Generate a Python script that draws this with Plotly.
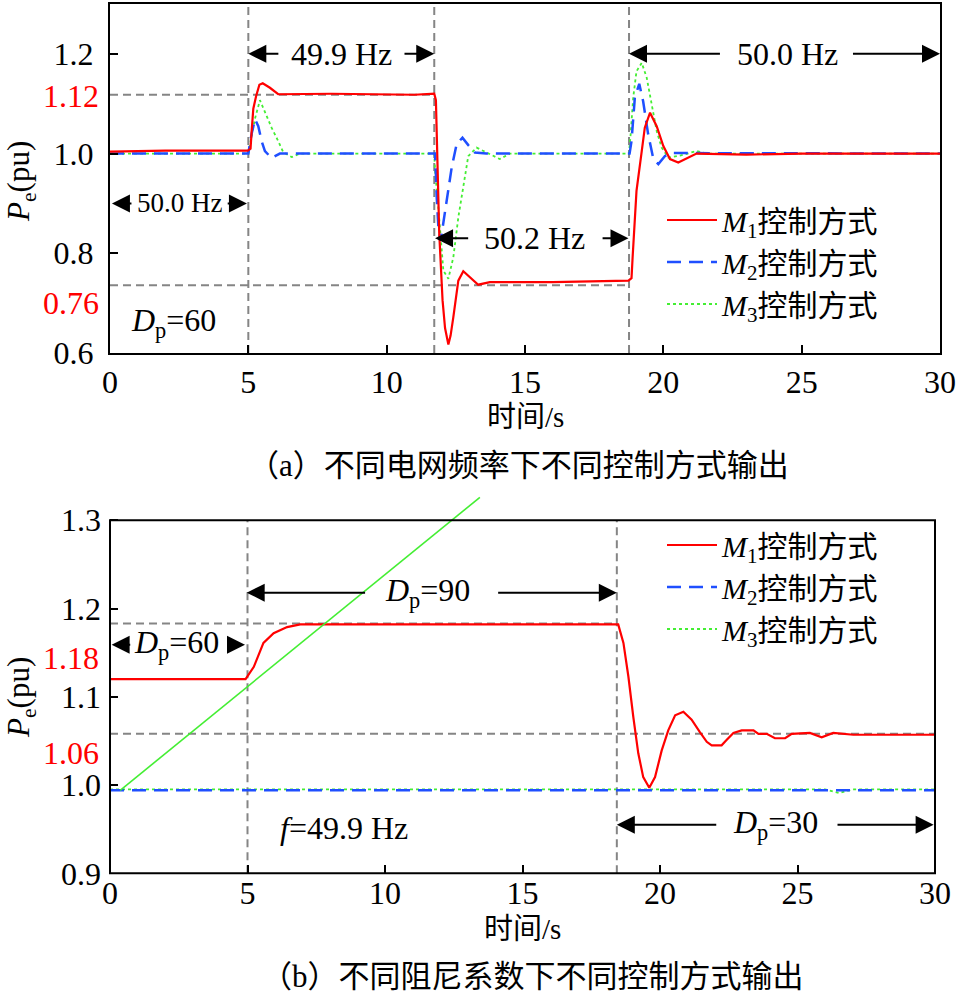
import plotly.graph_objects as go

# 字体: Times 风格 + 中文
FONT = "Liberation Serif, Noto Sans CJK SC"
RED = "#ff0000"
BLUE = "#1f4fff"
GREEN = "#44ee33"
GRAY = "#858585"

W, H = 960, 993


def fx(px):
    return px / W


def fy(py):
    return 1 - py / H


# (a) 不同电网频率下的输出 (时间/s, Pe/pu)
t_a_m1 = [0, 2, 4.98, 5.08, 5.12, 5.18, 5.28, 5.40, 5.52, 5.78, 6.08, 8, 11.0, 11.72, 11.78,
          11.90, 12.02, 12.11, 12.23, 12.31, 12.41, 12.59, 12.77, 13.01, 13.31, 13.73, 16,
          18.74, 18.85, 18.89, 19.03, 19.22, 19.33, 19.52, 19.76, 20.0, 20.24, 20.54, 20.84,
          21.2, 23, 25, 30]
p_a_m1 = [1.004, 1.006, 1.006, 1.01, 1.045, 1.09, 1.115, 1.138, 1.141, 1.132, 1.119, 1.12,
          1.118, 1.12, 1.107, 0.84, 0.706, 0.65, 0.617, 0.635, 0.672, 0.745, 0.764, 0.752,
          0.737, 0.742, 0.742, 0.745, 0.75, 0.792, 0.925, 1.005, 1.052, 1.082, 1.055, 1.015,
          0.989, 0.982, 0.99, 1.0, 0.998, 1.0, 1.0]

t_a_m2 = [0, 5.0, 5.12, 5.24, 5.36, 5.48, 5.60, 5.84, 6.14, 11.75, 11.81, 11.87, 11.95, 12.17,
          12.35, 12.53, 12.74, 12.95, 13.19, 13.6, 18.78, 18.85, 18.97, 19.13, 19.27, 19.45,
          19.64, 19.82, 20.06, 20.3, 30]
p_a_m2 = [1.0, 1.0, 1.04, 1.069, 1.055, 1.025, 1.005, 0.991, 1.0, 1.0, 0.912, 0.852, 0.825,
          0.905, 0.972, 1.019, 1.032, 1.017, 1.002, 1.0, 1.0, 1.025, 1.112, 1.14, 1.105, 1.039,
          0.989, 0.979, 0.995, 1.001, 1.0]

t_a_m3 = [0, 5.0, 5.12, 5.24, 5.42, 5.66, 5.84, 6.08, 6.26, 6.57, 6.87, 11.72, 11.75, 11.87,
          12.05, 12.23, 12.41, 12.59, 12.77, 12.95, 13.25, 13.61, 14.09, 14.46, 18.76, 18.82,
          18.91, 19.03, 19.22, 19.40, 19.58, 19.76, 19.94, 20.18, 20.6, 21.2, 21.56, 30]
p_a_m3 = [1.0, 1.0, 1.035, 1.07, 1.107, 1.075, 1.052, 1.025, 1.003, 0.993, 1.0, 1.0, 0.965,
          0.89, 0.765, 0.749, 0.792, 0.872, 0.932, 0.995, 1.012, 1.002, 0.989, 1.0, 1.0, 1.04,
          1.112, 1.165, 1.182, 1.152, 1.095, 1.045, 1.012, 0.992, 0.996, 1.005, 1.0, 1.0]

# 频率切换时刻 / 参考线
a_switch = [5.0, 11.72, 18.76]
a_ref_levels = [1.118, 0.736]
a_ref_ends = [11.72, 18.76]

# (b) 不同阻尼系数下的输出
t_b_m1 = [0, 4.93, 5.23, 5.58, 5.95, 6.44, 6.92, 10, 15, 18.43, 18.48, 18.67, 18.85, 19.03,
          19.21, 19.39, 19.61, 19.82, 20.06, 20.30, 20.55, 20.85, 21.15, 21.45, 21.70, 21.88,
          22.24, 22.42, 22.67, 22.97, 23.40, 23.58, 23.88, 24.18, 24.55, 24.79, 25.45, 25.88,
          26.30, 27.03, 30]
p_b_m1 = [1.12, 1.12, 1.134, 1.161, 1.172, 1.179, 1.182, 1.182, 1.182, 1.182, 1.182, 1.161,
          1.123, 1.077, 1.036, 1.009, 0.997, 1.009, 1.039, 1.062, 1.079, 1.083, 1.074, 1.060,
          1.049, 1.045, 1.045, 1.051, 1.059, 1.062, 1.062, 1.058, 1.058, 1.053, 1.053, 1.058,
          1.059, 1.054, 1.059, 1.057, 1.057]
t_b_m2 = [0, 30]
p_b_m2 = [0.994, 0.994]
t_b_m3 = [0, 26.0, 26.5, 27.0, 30]
p_b_m3 = [0.995, 0.995, 0.991, 0.995, 0.995]
# 原图中多出的一条绿色斜线
t_b_ramp = [0.37, 13.45]
p_b_ramp = [0.994, 1.326]

b_switch = [5.0, 18.43]
b_ref_levels = [1.183, 1.058]
b_ref_ends = [18.43, 30]

methods = ["<i>M</i><sub>1</sub>控制方式", "<i>M</i><sub>2</sub>控制方式", "<i>M</i><sub>3</sub>控制方式"]
styles = [dict(color=RED, width=2.2), dict(color=BLUE, width=2.5, dash="14px,8px"),
          dict(color=GREEN, width=1.8, dash="dot")]


def add_curves(fig, series, xa, ya, legend):
    # 先画 M3, M2, 最后 M1 (红线在最上层)
    for i in [2, 1, 0]:
        t, p = series[i]
        fig.add_trace(go.Scatter(x=t, y=p, mode="lines", name=methods[i], line=styles[i],
                                 xaxis=xa, yaxis=ya, legend=legend, legendrank=i + 1))


def dashed(fig, xref, yref, x0, x1, y0, y1):
    fig.add_shape(type="line", xref=xref, yref=yref, x0=x0, x1=x1, y0=y0, y1=y1,
                  line=dict(color=GRAY, width=2, dash="8px,5px"), layer="below")


def span(xref, yref, y, head0, tail0, tx, tail1, head1, text, size=32):
    # ←  text  →
    arrow = dict(xref=xref, yref=yref, axref=xref, ayref=yref, text="", showarrow=True,
                 arrowhead=2, arrowsize=1.8, arrowwidth=2, arrowcolor="black")
    return [dict(arrow, x=head0, y=y, ax=tail0, ay=y),
            dict(arrow, x=head1, y=y, ax=tail1, ay=y),
            dict(xref=xref, yref=yref, x=tx, y=y, text=text, showarrow=False,
                 xanchor="center", yanchor="middle", font=dict(size=size, color="black"))]


fig = go.Figure()
add_curves(fig, [(t_a_m1, p_a_m1), (t_a_m2, p_a_m2), (t_a_m3, p_a_m3)], "x", "y", "legend")
add_curves(fig, [(t_b_m1, p_b_m1), (t_b_m2, p_b_m2), (t_b_m3, p_b_m3)], "x2", "y2", "legend2")
fig.add_trace(go.Scatter(x=t_b_ramp, y=p_b_ramp, mode="lines", showlegend=False,
                         line=dict(color=GREEN, width=1.6), xaxis="x2", yaxis="y2"))

for x in a_switch:
    dashed(fig, "x", "y", x, x, 0.6, 1.3)
for lvl, end in zip(a_ref_levels, a_ref_ends):
    dashed(fig, "x", "y", 0, end, lvl, lvl)
for x in b_switch:
    dashed(fig, "x2", "y2", x, x, 0.9, 1.3)
for lvl, end in zip(b_ref_levels, b_ref_ends):
    dashed(fig, "x2", "y2", 0, end, lvl, lvl)

# (b) 图框只画到 1.3, 斜线可以伸出框外
fig.add_shape(type="rect", xref="x2 domain", yref="y2 domain", x0=0, x1=1, y0=0,
              y1=0.4 / 0.435, line=dict(color="black", width=2))

ann = []
ann += span("x", "y", 1.2, 5.0, 6.14, 8.38, 10.59, 11.72, "49.9 Hz")
ann += span("x", "y", 1.2, 18.76, 22.1, 24.5, 26.8, 30, "50.0 Hz")
ann += span("x", "y", 0.9, 0.07, 0.83, 2.5, 4.2, 4.95, "50.0 Hz", size=27)
ann += span("x", "y", 0.83, 11.75, 13.0, 15.35, 17.75, 18.74, "50.2 Hz")
ann.append(dict(xref="x", yref="y", x=2.3, y=0.662, showarrow=False,
                text="<i>D</i><sub>p</sub>=60", font=dict(size=32)))
ann += span("x2", "y2", 1.159, 0.06, 0.79, 2.4, 4.24, 4.91, "<i>D</i><sub>p</sub>=60")
ann += span("x2", "y2", 1.218, 4.97, 9.33, 11.55, 14.06, 18.43, "<i>D</i><sub>p</sub>=90")
ann += span("x2", "y2", 0.955, 18.43, 22.1, 24.2, 26.4, 29.95, "<i>D</i><sub>p</sub>=30")
ann.append(dict(xref="x2", yref="y2", x=8.5, y=0.951, showarrow=False,
                text="<i>f</i>=49.9 Hz", font=dict(size=32)))

# 红色刻度标注
for ref, y, txt in [("y", 1.116, "1.12"), ("y", 0.70, "0.76"),
                    ("y2", 1.1436, "1.18"), ("y2", 1.036, "1.06")]:
    ann.append(dict(xref="paper", yref=ref, x=fx(101), y=y, xanchor="right", yanchor="middle",
                    text=txt, showarrow=False, font=dict(size=32, color=RED)))

# 轴标题与图注
for x, y, txt, ang, size in [(21, 182, "<i>P</i><sub>e</sub>(pu)", -90, 31),
                             (21, 698, "<i>P</i><sub>e</sub>(pu)", -90, 31),
                             (525, 417, "时间/s", 0, 29), (522, 929, "时间/s", 0, 29),
                             (518, 465, "（a）不同电网频率下不同控制方式输出", 0, 31),
                             (532, 976, "（b）不同阻尼系数下不同控制方式输出", 0, 31)]:
    ann.append(dict(xref="paper", yref="paper", x=fx(x), y=fy(y), text=txt, textangle=ang,
                    xanchor="center", yanchor="middle", showarrow=False, font=dict(size=size)))

axis_style = dict(ticks="inside", ticklen=8, tickwidth=2, tickcolor="black", showgrid=False,
                  zeroline=False, automargin=False, tickfont=dict(size=32, color="black"))

fig.update_layout(
    width=W, height=H,
    margin=dict(l=0, r=0, t=0, b=0, autoexpand=False),
    paper_bgcolor="white", plot_bgcolor="white",
    font=dict(family=FONT, color="black"),
    xaxis=dict(axis_style, domain=[fx(110), fx(940)], anchor="y", range=[0, 30],
               tickvals=[0, 5, 10, 15, 20, 25, 30], showline=True, mirror=True,
               linewidth=2, linecolor="black", ticklabelstandoff=0),
    yaxis=dict(axis_style, domain=[fy(353), fy(4)], anchor="x", range=[0.6, 1.3],
               tickvals=[0.6, 0.8, 1.0, 1.2], ticktext=["0.6", "0.8", "1.0", "1.2"],
               showline=True, mirror=True, linewidth=2, linecolor="black",
               ticklabelstandoff=8),
    xaxis2=dict(axis_style, domain=[fx(110), fx(935)], anchor="y2", range=[0, 30],
                tickvals=[0, 5, 10, 15, 20, 25, 30], showline=False, ticklabelstandoff=-2),
    yaxis2=dict(axis_style, domain=[fy(873.3), fy(489.4)], anchor="x2",
                range=[0.9, 1.335], tickvals=[0.9, 1.0, 1.1, 1.2, 1.3],
                ticktext=["0.9", "1.0", "1.1", "1.2", "1.3"], showline=False,
                ticklabelstandoff=8),
    legend=dict(x=fx(662), y=fy(194), xanchor="left", yanchor="top",
                bgcolor="rgba(0,0,0,0)", font=dict(size=30), itemwidth=50),
    legend2=dict(x=fx(662), y=fy(519), xanchor="left", yanchor="top",
                 bgcolor="rgba(0,0,0,0)", font=dict(size=30), itemwidth=50),
    annotations=ann,
)

# 去掉页面默认 8px 边距, 960x993 的图正好占满窗口
fig.write_html("out.html", config={"displayModeBar": False},
               post_script="document.body.style.margin='0';document.body.style.overflow='hidden';")
